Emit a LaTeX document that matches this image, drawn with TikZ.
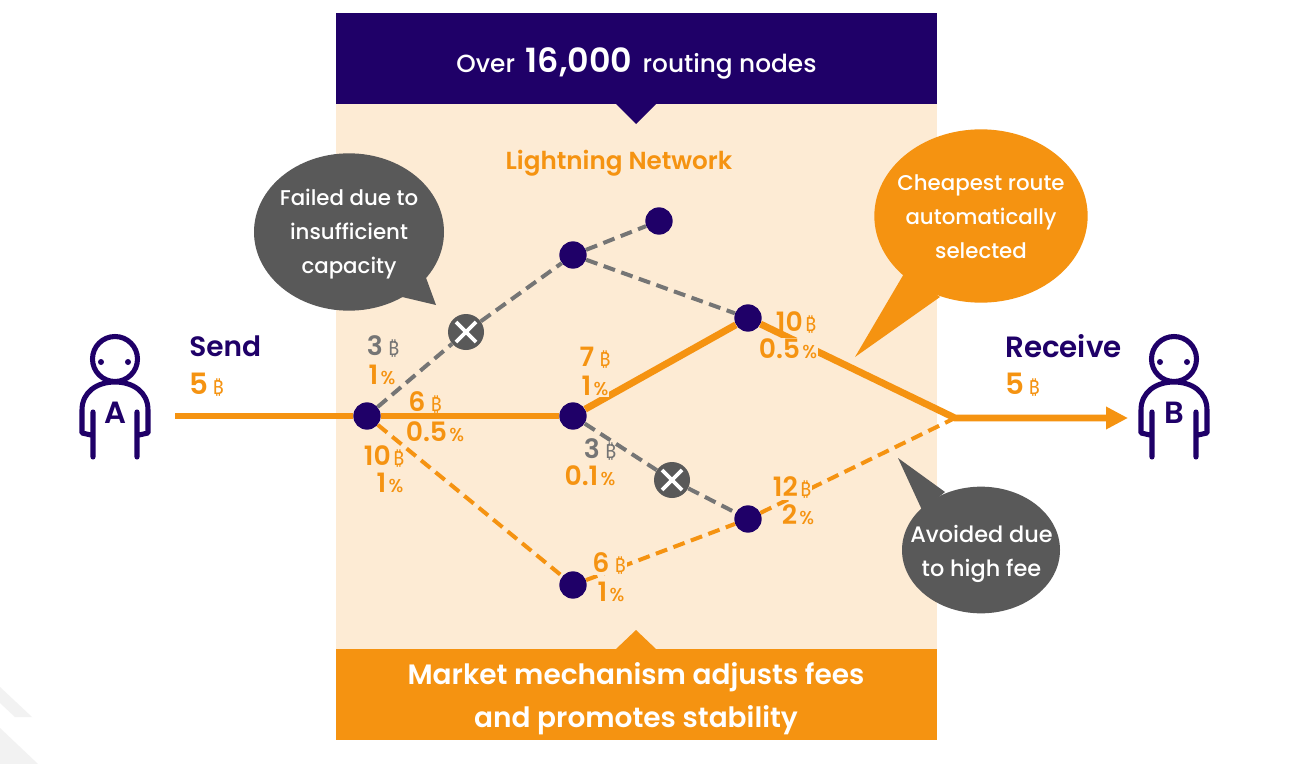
\documentclass[tikz,border=0pt]{standalone}
\usepackage{fontspec}
\setmainfont{Poppins}[UprightFont=* Medium,BoldFont=* SemiBold]
\newfontfamily\btcfont{Noto Sans}
\usetikzlibrary{arrows.meta,shapes.geometric}
\definecolor{navy}{HTML}{1F0068}
\definecolor{amber}{HTML}{F59311}
\definecolor{cream}{HTML}{FDEBD4}
\definecolor{slate}{HTML}{595959}
\definecolor{dashgray}{HTML}{757575}
\definecolor{wedge}{HTML}{F2F2F2}
\newcommand{\fs}[2]{\fontsize{#1}{#2}\selectfont}
% amount or fee: large figure followed by a small unit
\newcommand{\figunit}[3][amber]{{\fs{20}{22}\bfseries\textcolor{#1}{#2}}\,{\fs{14}{15}\textcolor{#1}{#3}}}
\newcommand{\btc}{{\btcfont\fs{14.5}{15}₿}}
\tikzset{
  x=0.75pt,y=-0.75pt,
  hop/.style={circle,fill=navy,draw=none,minimum size=20.5pt,inner sep=0pt},
  failmark/.style={circle,fill=slate,draw=none,minimum size=27pt,inner sep=0pt,
    path picture={\draw[white,line width=2.8pt]
      ([shift={(-10,-10)}]path picture bounding box.center) -- ([shift={(10,10)}]path picture bounding box.center)
      ([shift={(-10,10)}]path picture bounding box.center) -- ([shift={(10,-10)}]path picture bounding box.center);}},
  route/.style={amber,line width=5.2pt},
  altroute/.style={amber,line width=3pt,dash pattern=on 9pt off 5pt},
  deadroute/.style={dashgray,line width=3pt,dash pattern=on 9pt off 5pt},
  callout/.style={ellipse,inner sep=0pt},
  callouttext/.style={inner sep=0pt,align=center,text=white,font=\fs{16}{25.5}},
  hopnote/.style={inner sep=0.6pt,outer sep=0pt},
  masked/.style={hopnote,fill=cream},
  party/.pic={
    \draw[navy,line width=3.8pt,line cap=round,line join=round]
      (0,-57) circle[radius=22.5]
      (-24,19) -- (-33,17) -- (-33,-6) .. controls (-33,-24) and (-18,-34) .. (0,-34)
        .. controls (18,-34) and (33,-24) .. (33,-6) -- (33,17) -- (24,19)
      (-22,-4) -- (-22,41) (22,-4) -- (22,41);
  },
}
\begin{document}
\begin{tikzpicture}
\useasboundingbox (0,0) rectangle (1300,764);
\fill[white] (0,0) rectangle (1300,764);
% faint wedges in the lower left corner
\fill[wedge] (0,687) -- (32,717) -- (15,717) -- (0,703) -- cycle;
\fill[wedge] (0,728) -- (38,764) -- (0,764) -- cycle;
% network panel and its two banners
\fill[cream] (336,104) rectangle (937,649);
\fill[navy] (336,13) rectangle (937,104);
\fill[navy] (616,104) -- (656,104) -- (636,124) -- cycle;
\fill[amber] (336,649) rectangle (937,740);
\fill[amber] (616,649) -- (656,649) -- (636,630) -- cycle;
\node (topbanner) at (636.5,63) [text=white,inner sep=0pt] {\fs{18.6}{24}Over\, {\fs{25}{30}\bfseries 16,000}\, routing nodes};
\node (bottombanner) at (636,699) [text=white,inner sep=0pt,align=center,font=\fs{21}{32}\bfseries] {Market mechanism adjusts fees\\and promotes stability};
\node (nettitle) at (619,163) [text=amber,inner sep=0pt,font=\fs{18.5}{24}\bfseries] {Lightning Network};

% routing nodes and junctions
\node[hop] (n1) at (367,416) {};
\node[hop] (n2) at (573,416) {};
\node[hop] (n3) at (573,255) {};
\node[hop] (n4) at (659,221) {};
\node[hop] (n5) at (748,318) {};
\node[hop] (n6) at (748,519) {};
\node[hop] (n7) at (573,585) {};
\coordinate (start) at (175,416);
\coordinate (merge) at (955,418);
\coordinate (finish) at (1128,418);
\node[failmark] (x1) at (466,332) {};
\node[failmark] (x2) at (672,480) {};

% connectors
\draw[deadroute] (n1) -- (x1);
\draw[deadroute] (x1) -- (n3);
\draw[deadroute] (n3) -- (n4);
\draw[deadroute] (n3) -- (n5);
\draw[deadroute] (n2) -- (x2);
\draw[deadroute] (x2) -- (n6);
\draw[altroute] (n1) -- (n7);
\draw[altroute] (n7) -- (n6);
\draw[altroute] (n6) -- (merge);
\draw[route] (start) -- (n1);
\draw[route] (n1) -- (n2);
\draw[route] (n2) -- (n5);
\draw[route,line join=bevel] (n5) -- (merge) -- ([xshift=-10]finish);
\draw[route,-{Triangle[length=16.5pt,width=16pt]}] (merge) -- (finish);

% amounts and fees along the routes
\node[hopnote] (a1) at (383,346) {\figunit[dashgray]{3}{\,\btc}};
\node[hopnote] (f1) at (382,375) {\figunit{1}{\%}};
\node[hopnote] (a2) at (425,402) {\figunit{6}{\,\btc}};
\node[hopnote] (f2) at (435,432) {\figunit{0.5}{\%}};
\node[hopnote] (a3) at (384,457) {\figunit{10}{\btc}};
\node[hopnote] (f3) at (390,483) {\figunit{1}{\%}};
\node[hopnote] (a4) at (595,358) {\figunit{7}{\,\btc}};
\node[masked] (f4) at (595,386) {\figunit{1}{\%}};
\node[hopnote] (a5) at (796,323) {\figunit{10}{\btc}};
\node[masked] (f5) at (788,349) {\figunit{0.5}{\%}};
\node[hopnote] (a6) at (600,449) {\figunit[dashgray]{3}{\,\btc}};
\node[hopnote] (f6) at (590,476) {\figunit{0.1}{\%}};
\node[masked] (a7) at (792,488) {\figunit{12}{\btc}};
\node[hopnote] (f7) at (798,515) {\figunit{2}{\%}};
\node[masked] (a8) at (609,563) {\figunit{6}{\,\btc}};
\node[hopnote] (f8) at (611,592) {\figunit{1}{\%}};

% speech bubbles
\fill[slate] (436,305) -- (398,296) -- (425,275) -- cycle;
\node[callout,fill=slate,minimum width=142.5pt,minimum height=118pt] (failnote) at (349,232) {};
\node[callouttext] (failtext) at (failnote.center) [yshift=-1.5pt] {Failed due to\\insufficient\\capacity};
\fill[amber] (855,357) -- (905,272) -- (940,297) -- cycle;
\node[callout,fill=amber,minimum width=160pt,minimum height=130pt] (cheapnote) at (981,216) {};
\node[callouttext] (cheaptext) at (981,217) {Cheapest route\\automatically\\selected};
\fill[slate] (898,458) -- (945,492) -- (922,510) -- cycle;
\node[callout,fill=slate,minimum width=118.5pt,minimum height=95pt] (avoidnote) at (981,550) {};
\node[callouttext,font=\fs{16.8}{25.5}] (avoidtext) at (981.5,554) {Avoided due\\to high fee};

% the two parties
\pic at (115,416) {party};
\fill[navy] (101,362) circle[radius=3] (128,362) circle[radius=3];
\node (labelA) at (115,413) [text=navy,inner sep=0pt,font=\fs{23}{26}\bfseries] {A};
\pic at (1174,416) {party};
\fill[navy] (1160,362) circle[radius=3] (1187,362) circle[radius=3];
\node (labelB) at (1174,413) [text=navy,inner sep=0pt,font=\fs{23}{26}\bfseries] {B};

\node (sendlabel) at (189,346) [anchor=west,text=navy,inner sep=0pt,font=\fs{21}{25}\bfseries] {Send};
\node (sendamount) at (189,385) [anchor=west,inner sep=0pt] {{\fs{22}{24}\bfseries\textcolor{amber}{5}}\,\,\textcolor{amber}{\btc}};
\node (recvlabel) at (1005,346) [anchor=west,text=navy,inner sep=0pt,font=\fs{22}{25}\bfseries] {Receive};
\node (recvamount) at (1005,385) [anchor=west,inner sep=0pt] {{\fs{22}{24}\bfseries\textcolor{amber}{5}}\,\,\textcolor{amber}{\btc}};
\end{tikzpicture}
\end{document}
